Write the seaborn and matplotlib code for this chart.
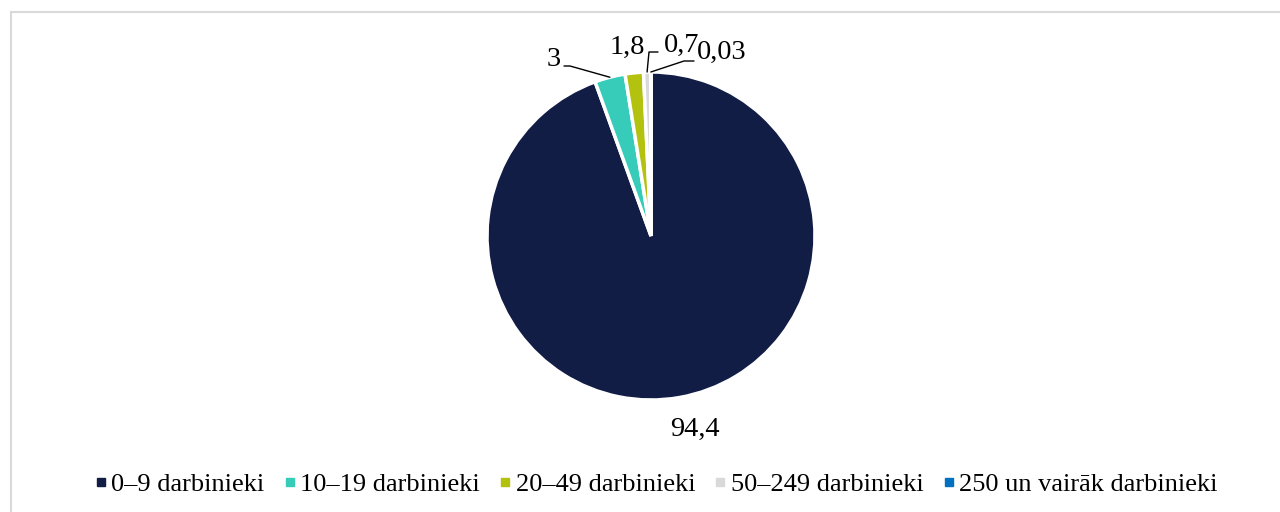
import numpy as np
import matplotlib
matplotlib.use("Agg")
import matplotlib.pyplot as plt
from matplotlib.lines import Line2D
from matplotlib.patches import Rectangle
import seaborn as sns

categories = ['0–9 darbinieki', '10–19 darbinieki', '20–49 darbinieki',
              '50–249 darbinieki', '250 un vairāk darbinieki']
shares = [94.4, 3, 1.8, 0.7, 0.03]
value_labels = ['94,4', '3', '1,8', '0,7', '0,03']

sns.set_theme(style="white")
plt.rcParams['font.family'] = ['Liberation Serif', 'DejaVu Serif']

palette = sns.color_palette(['#121D45', '#36CCB9', '#B3C10F', '#D9D9D9', '#0070C0'])

W, H = 1280, 512
fig = plt.figure(figsize=(W / 100, H / 100), dpi=100)
ax = fig.add_axes([0, 0, 1, 1])

cx, cy, r = 651, H - 236, 164
wedges, _ = ax.pie(shares, colors=palette, startangle=90, counterclock=False,
                   center=(cx, cy), radius=r,
                   wedgeprops=dict(edgecolor='white', linewidth=2.5))

# pie() resets the limits, so set the pixel-like frame afterwards
ax.set_xlim(0, W)
ax.set_ylim(0, H)
ax.set_aspect('equal')
ax.axis('off')

# frame line (top / left visible)
ax.add_patch(Rectangle((11, -20), W + 40, H - 12 + 20, fill=False,
                       edgecolor='#D9D9D9', linewidth=1.5))

# label placement: (text x, text y in px from top, ha, elbow points)
layout = [
    None,
    (561, 60, 'right', [(570, 66), (564, 66)]),
    (627, 47, 'center', None),
    (664, 45, 'left', [(649, 52), (658, 52)]),
    (697, 52, 'left', [(684, 61), (694, 61)]),
]

total = sum(shares)
cum = 0
for i, (val, lab) in enumerate(zip(shares, value_labels)):
    mid = 90 - (cum + val / 2) / total * 360
    cum += val
    ang = np.deg2rad(mid)
    if layout[i] is None:
        tx = cx + r * 1.2 * np.cos(ang)
        ty = cy + r * 1.2 * np.sin(ang)
        ax.text(tx + 10, ty, lab, ha='center', va='center', fontsize=20.5, color='#000000')
        continue
    tx, ty, ha, elbow = layout[i]
    if elbow is not None:
        sx = cx + r * np.cos(ang)
        sy = cy + r * np.sin(ang)
        xs = [sx] + [p[0] for p in elbow]
        ys = [sy] + [H - p[1] for p in elbow]
        ax.plot(xs, ys, color='#000000', linewidth=1)
    ax.text(tx, H - ty, lab, ha=ha, va='center', fontsize=20.5, color='#000000')

handles = [Line2D([0], [0], marker='s', linestyle='none', markersize=6,
                  markerfacecolor=c, markeredgecolor=c) for c in palette]
fig.legend(handles, categories, loc='center', bbox_to_anchor=(0.513, 1 - 484 / H),
           ncol=5, frameon=False, fontsize=19, handlelength=0.4,
           handletextpad=0.2, columnspacing=0.75, labelcolor='#000000')

fig.savefig('out.png', dpi=100)
